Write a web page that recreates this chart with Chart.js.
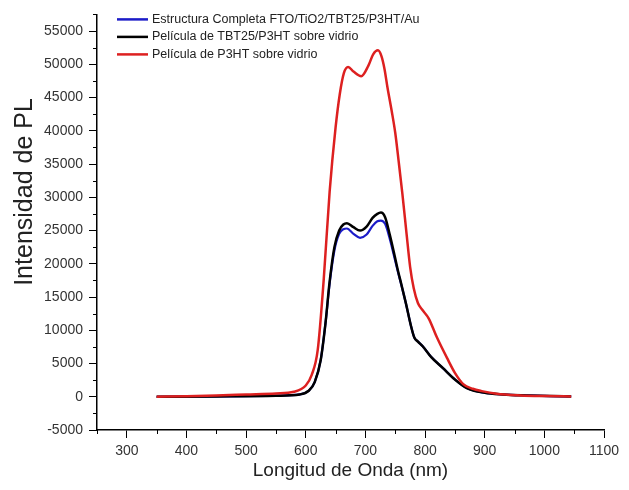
<!DOCTYPE html>
<html>
<head>
<meta charset="utf-8">
<script src="https://cdn.jsdelivr.net/npm/chart.js@4.4.1/dist/chart.umd.min.js"></script>
<style>
  html, body { margin: 0; padding: 0; background: #fff; }
</style>
</head>
<body>
<canvas id="chart" width="629" height="490"></canvas>
<script>
// legend labels, same order as in the original figure
const seriesLabels = [
  "Estructura Completa FTO/TiO2/TBT25/P3HT/Au",
  "Película de TBT25/P3HT sobre vidrio",
  "Película de P3HT sobre vidrio"
];
const seriesColors = ["#1c1cc8", "#000000", "#dd2020"];
const yTitle = "Intensidad de PL";

// blue: full structure
const blueNm = [350, 450, 550, 590, 605, 615, 625, 633, 640, 648, 656, 663, 669, 680, 691, 702, 712, 720, 726, 733, 741, 749, 755, 760, 768, 776, 782, 788, 796, 810, 830, 850, 870, 900, 930, 970, 1010, 1045];
const bluePL = [0, 50, 150, 350, 900, 2200, 5500, 11000, 17000, 22000, 24500, 25200, 25300, 24500, 23900, 24400, 25700, 26400, 26500, 26000, 23700, 20800, 18600, 16900, 14000, 10800, 8900, 8300, 7600, 6000, 4300, 2600, 1300, 600, 350, 200, 100, 50];

// black: TBT25/P3HT film
const blackNm = [350, 450, 550, 590, 605, 615, 625, 633, 640, 648, 656, 663, 669, 680, 691, 702, 712, 720, 726, 733, 741, 749, 755, 760, 768, 776, 782, 788, 796, 810, 830, 850, 870, 900, 930, 970, 1010, 1045];
const blackPL = [0, 50, 150, 350, 900, 2200, 5500, 11000, 17300, 22500, 25000, 25900, 26100, 25500, 25000, 25600, 26900, 27500, 27700, 27000, 24300, 21200, 18800, 17000, 14000, 10800, 8900, 8300, 7600, 6000, 4300, 2600, 1300, 600, 350, 200, 100, 50];

// red: P3HT film
const redNm = [350, 400, 450, 500, 550, 580, 600, 610, 620, 630, 640, 650, 657, 664, 671, 680, 693, 705, 713, 721, 727, 732, 737, 744, 750, 756, 762, 769, 775, 781, 788, 796, 806, 820, 837, 850, 864, 880, 895, 920, 960, 1000, 1045];
const redPL = [0, 80, 200, 350, 500, 750, 1700, 3300, 7000, 17500, 30800, 40500, 45500, 48700, 49600, 48900, 48200, 49800, 51500, 52100, 51200, 49300, 46500, 43000, 39700, 35200, 30500, 24500, 19500, 16300, 14100, 13000, 11800, 8900, 5800, 3600, 1900, 1200, 850, 450, 200, 100, 50];

const xTicks = [300, 400, 500, 600, 700, 800, 900, 1000, 1100];
const yTicks = [-5000, 0, 5000, 10000, 15000, 20000, 25000, 30000, 35000, 40000, 45000, 50000, 55000];

const toPoints = (xs, ys) => xs.map((x, i) => ({ x: x, y: ys[i] }));

const FONT = "'Liberation Sans', Arial, sans-serif";

// Origin style minor ticks, y title and legend inside the plot
const originExtras = {
  id: "originExtras",
  afterDraw(chart) {
    const ctx = chart.ctx;
    const xs = chart.scales.x;
    const ys = chart.scales.y;
    ctx.save();
    ctx.strokeStyle = "#000";
    ctx.lineWidth = 1;
    ctx.beginPath();
    for (let v = xs.min; v <= xs.max; v += 100) {
      const px = Math.round(xs.getPixelForValue(v)) + 0.5;
      ctx.moveTo(px, xs.top);
      ctx.lineTo(px, xs.top + 4);
    }
    for (let v = -2500; v <= ys.max; v += 5000) {
      const py = Math.round(ys.getPixelForValue(v)) + 0.5;
      ctx.moveTo(ys.right, py);
      ctx.lineTo(ys.right - 4, py);
    }
    ctx.stroke();

    // y title, sits a bit above the middle of the axis like the original
    ctx.save();
    ctx.translate(25, 192);
    ctx.rotate(-Math.PI / 2);
    ctx.font = "25px " + FONT;
    ctx.fillStyle = "#222";
    ctx.textAlign = "center";
    ctx.textBaseline = "middle";
    ctx.fillText(yTitle, 0, 0);
    ctx.restore();

    // legend
    const area = chart.chartArea;
    ctx.font = "12.5px " + FONT;
    ctx.textBaseline = "middle";
    chart.data.datasets.forEach((ds, i) => {
      const cy = area.top + 5 + i * 17.5;
      ctx.strokeStyle = ds.borderColor;
      ctx.lineWidth = 2.5;
      ctx.beginPath();
      ctx.moveTo(area.left + 20, cy);
      ctx.lineTo(area.left + 51, cy);
      ctx.stroke();
      ctx.fillStyle = "#222";
      ctx.fillText(ds.label, area.left + 55, cy);
    });
    ctx.restore();
  }
};

const datasets = [
  { label: seriesLabels[0], data: toPoints(blueNm, bluePL), borderColor: seriesColors[0], borderWidth: 2.2, order: 3 },
  { label: seriesLabels[1], data: toPoints(blackNm, blackPL), borderColor: seriesColors[1], borderWidth: 2.5, order: 2 },
  { label: seriesLabels[2], data: toPoints(redNm, redPL), borderColor: seriesColors[2], borderWidth: 2.5, order: 1 }
];
datasets.forEach(ds => {
  ds.pointRadius = 0;
  ds.fill = false;
  ds.cubicInterpolationMode = "monotone";
});

new Chart(document.getElementById("chart"), {
  type: "line",
  data: { datasets: datasets },
  plugins: [originExtras],
  options: {
    responsive: false,
    animation: false,
    layout: { padding: { top: 12, right: 25, left: 0, bottom: 0 } },
    plugins: {
      legend: { display: false },
      tooltip: { enabled: false }
    },
    scales: {
      x: {
        type: "linear",
        min: 250,
        max: 1100,
        afterBuildTicks: axis => { axis.ticks = xTicks.map(v => ({ value: v })); },
        afterFit: axis => { axis.height = 60; },
        border: { display: true, color: "#000", width: 1.5 },
        grid: { drawOnChartArea: false, tickLength: 8, color: "#000", tickWidth: 1 },
        ticks: { color: "#333", padding: 5, maxRotation: 0, font: { size: 14, family: FONT }, callback: v => String(v) },
        title: { display: true, text: "Longitud de Onda (nm)", color: "#222", font: { size: 19, family: FONT }, padding: 8 }
      },
      y: {
        type: "linear",
        min: -5000,
        max: 57500,
        afterBuildTicks: axis => { axis.ticks = yTicks.map(v => ({ value: v })); },
        afterFit: axis => { axis.width = 97; },
        border: { display: true, color: "#000", width: 1.5 },
        grid: { drawOnChartArea: false, tickLength: 8, color: "#000", tickWidth: 1 },
        ticks: { color: "#333", padding: 6, font: { size: 14, family: FONT }, callback: v => String(v) }
      }
    }
  }
});
</script>
</body>
</html>
